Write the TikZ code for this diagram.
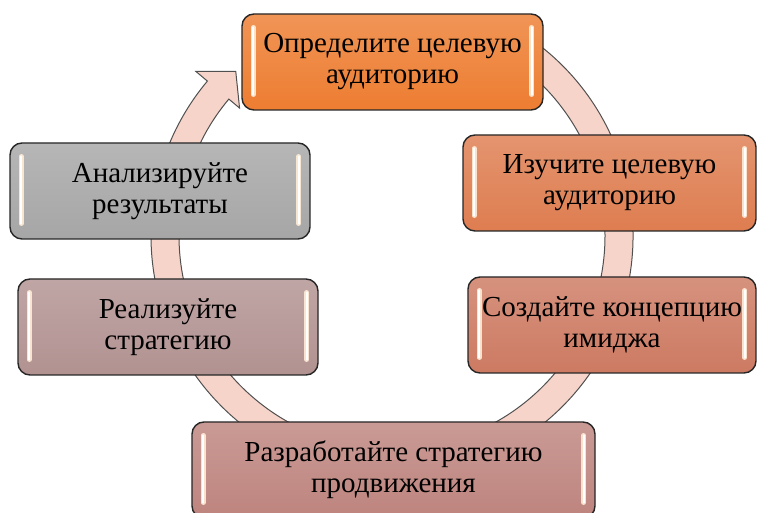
\documentclass[tikz,border=0pt]{standalone}
\usepackage{fontspec}
\setmainfont{Liberation Serif}
\newfontfamily\stagefont{Liberation Serif}
\usepackage{xcolor}
\definecolor{ringfill}{RGB}{246,212,202}
\definecolor{ringline}{RGB}{80,80,80}
\definecolor{defcol}{RGB}{237,125,49}
\definecolor{studycol}{RGB}{222,125,80}
\definecolor{conceptcol}{RGB}{205,122,98}
\definecolor{promocol}{RGB}{190,132,126}
\definecolor{implcol}{RGB}{177,146,145}
\definecolor{analcol}{RGB}{166,166,166}
\definecolor{glosscol}{RGB}{255,236,214}
\tikzset{
  stage/.style={draw=black!85, line width=1.4pt, rounded corners=12pt,
    minimum height=96pt, align=center, inner sep=0pt,
    font=\stagefont\fontsize{29}{31}\selectfont,
    top color=#1!82!white, bottom color=#1},
  gloss/.style={line cap=round, line width=4.5pt, draw=glosscol, opacity=0.9},
  glosscore/.style={line cap=round, line width=1.8pt, draw=white},
}

\begin{document}
\begin{tikzpicture}[x=1pt,y=1pt]
\useasboundingbox (0,0) rectangle (757,513);
\clip (0,0) rectangle (757,513);
% ring with arrow head
\begin{scope}[shift={(392,277)}]
\filldraw[fill=ringfill, draw=ringline, line width=1pt]
  (60:241) arc[start angle=60, end angle=-220, radius=241]
  -- (140:256) -- (133.5:227) -- (140:199) -- (140:213)
  arc[start angle=-220, end angle=60, radius=213] -- cycle;
\end{scope}
% stages
\node[stage=defcol, minimum width=301pt] (define) at (392.5,451) {Определите целевую\\аудиторию};
\node[stage=studycol, minimum width=293pt] (study) at (609.5,330) {Изучите целевую\\аудиторию};
\node[stage=conceptcol, minimum width=288pt] (concept) at (612,188) {Создайте концепцию\\имиджа};
\node[stage=promocol, minimum width=403pt] (promo) at (393.5,43) {Разработайте стратегию\\продвижения};
\node[stage=implcol, minimum width=300pt] (implement) at (168,186) {Реализуйте\\стратегию};
\node[stage=analcol, minimum width=300pt] (analyze) at (160,322) {Анализируйте\\результаты};
% highlights
\foreach \n in {define,study,concept,promo,implement,analyze}{
  \draw[gloss] ([xshift=12pt,yshift=-14pt]\n.north west) -- ([xshift=12pt,yshift=16pt]\n.south west);
  \draw[gloss] ([xshift=-12pt,yshift=-14pt]\n.north east) -- ([xshift=-12pt,yshift=16pt]\n.south east);
  \draw[glosscore] ([xshift=12pt,yshift=-14pt]\n.north west) -- ([xshift=12pt,yshift=16pt]\n.south west);
  \draw[glosscore] ([xshift=-12pt,yshift=-14pt]\n.north east) -- ([xshift=-12pt,yshift=16pt]\n.south east);
}
\end{tikzpicture}
\end{document}
